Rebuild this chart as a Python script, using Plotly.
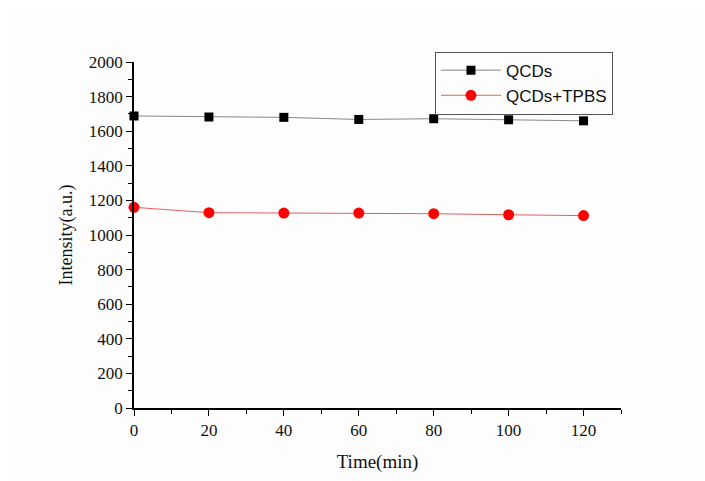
import plotly.graph_objects as go

time_min = [0, 20, 40, 60, 80, 100, 120]
qcds = [1688, 1682, 1680, 1668, 1672, 1666, 1660]
qcds_tpbs = [1160, 1129, 1127, 1127, 1123, 1117, 1112]
x_ticks = [0, 20, 40, 60, 80, 100, 120]
y_ticks = [0, 200, 400, 600, 800, 1000, 1200, 1400, 1600, 1800, 2000]

fig = go.Figure()
fig.add_trace(go.Scatter(
    x=time_min, y=qcds, name="QCDs", mode="lines+markers",
    line=dict(color="#888888", width=1),
    marker=dict(symbol="square", size=9, color="black"),
    cliponaxis=False,
))
fig.add_trace(go.Scatter(
    x=time_min, y=qcds_tpbs, name="QCDs+TPBS", mode="lines+markers",
    line=dict(color="#e06060", width=1),
    marker=dict(symbol="circle", size=11, color="#ff0000"),
    cliponaxis=False,
))

serif = "Liberation Serif, Times New Roman, serif"
axis_font = dict(family=serif, size=17, color="#111111")
fig.update_xaxes(
    range=[0, 130], tickvals=x_ticks, ticktext=[str(v) for v in x_ticks],
    showgrid=False, zeroline=False, showline=True, linecolor="black", linewidth=1.5,
    ticks="outside", ticklen=6, tickwidth=1.2, tickcolor="black",
    minor=dict(dtick=10, tick0=0, ticks="outside", ticklen=4, tickcolor="black", tickwidth=1.2, showgrid=False),
    tickfont=axis_font,
    title=dict(text="Time(min)", font=dict(family=serif, size=19, color="#111111"), standoff=16),
)
fig.update_yaxes(
    range=[0, 2000], tickvals=y_ticks, ticktext=[str(v) for v in y_ticks],
    showgrid=False, zeroline=False, showline=True, linecolor="black", linewidth=1.5,
    ticks="outside", ticklen=6, tickwidth=1.2, tickcolor="black",
    minor=dict(dtick=100, tick0=0, ticks="outside", ticklen=4, tickcolor="black", tickwidth=1.2, showgrid=False),
    tickfont=axis_font,
    title=dict(text="Intensity(a.u.)", font=dict(family=serif, size=18, color="#111111"), standoff=12),
)
fig.update_layout(
    width=705, height=481,
    margin=dict(l=126, r=92, t=54, b=81),
    paper_bgcolor="#fdfdfd", plot_bgcolor="#fdfdfd",
    showlegend=True,
    legend=dict(
        x=0.618, y=1.03, xanchor="left", yanchor="top",
        bgcolor="#fdfdfd", bordercolor="#555555", borderwidth=1,
        font=dict(family="Liberation Sans, Arial, sans-serif", size=17, color="#111111"),
        itemwidth=60, tracegroupgap=0,
    ),
)
fig.write_html("out.html")
